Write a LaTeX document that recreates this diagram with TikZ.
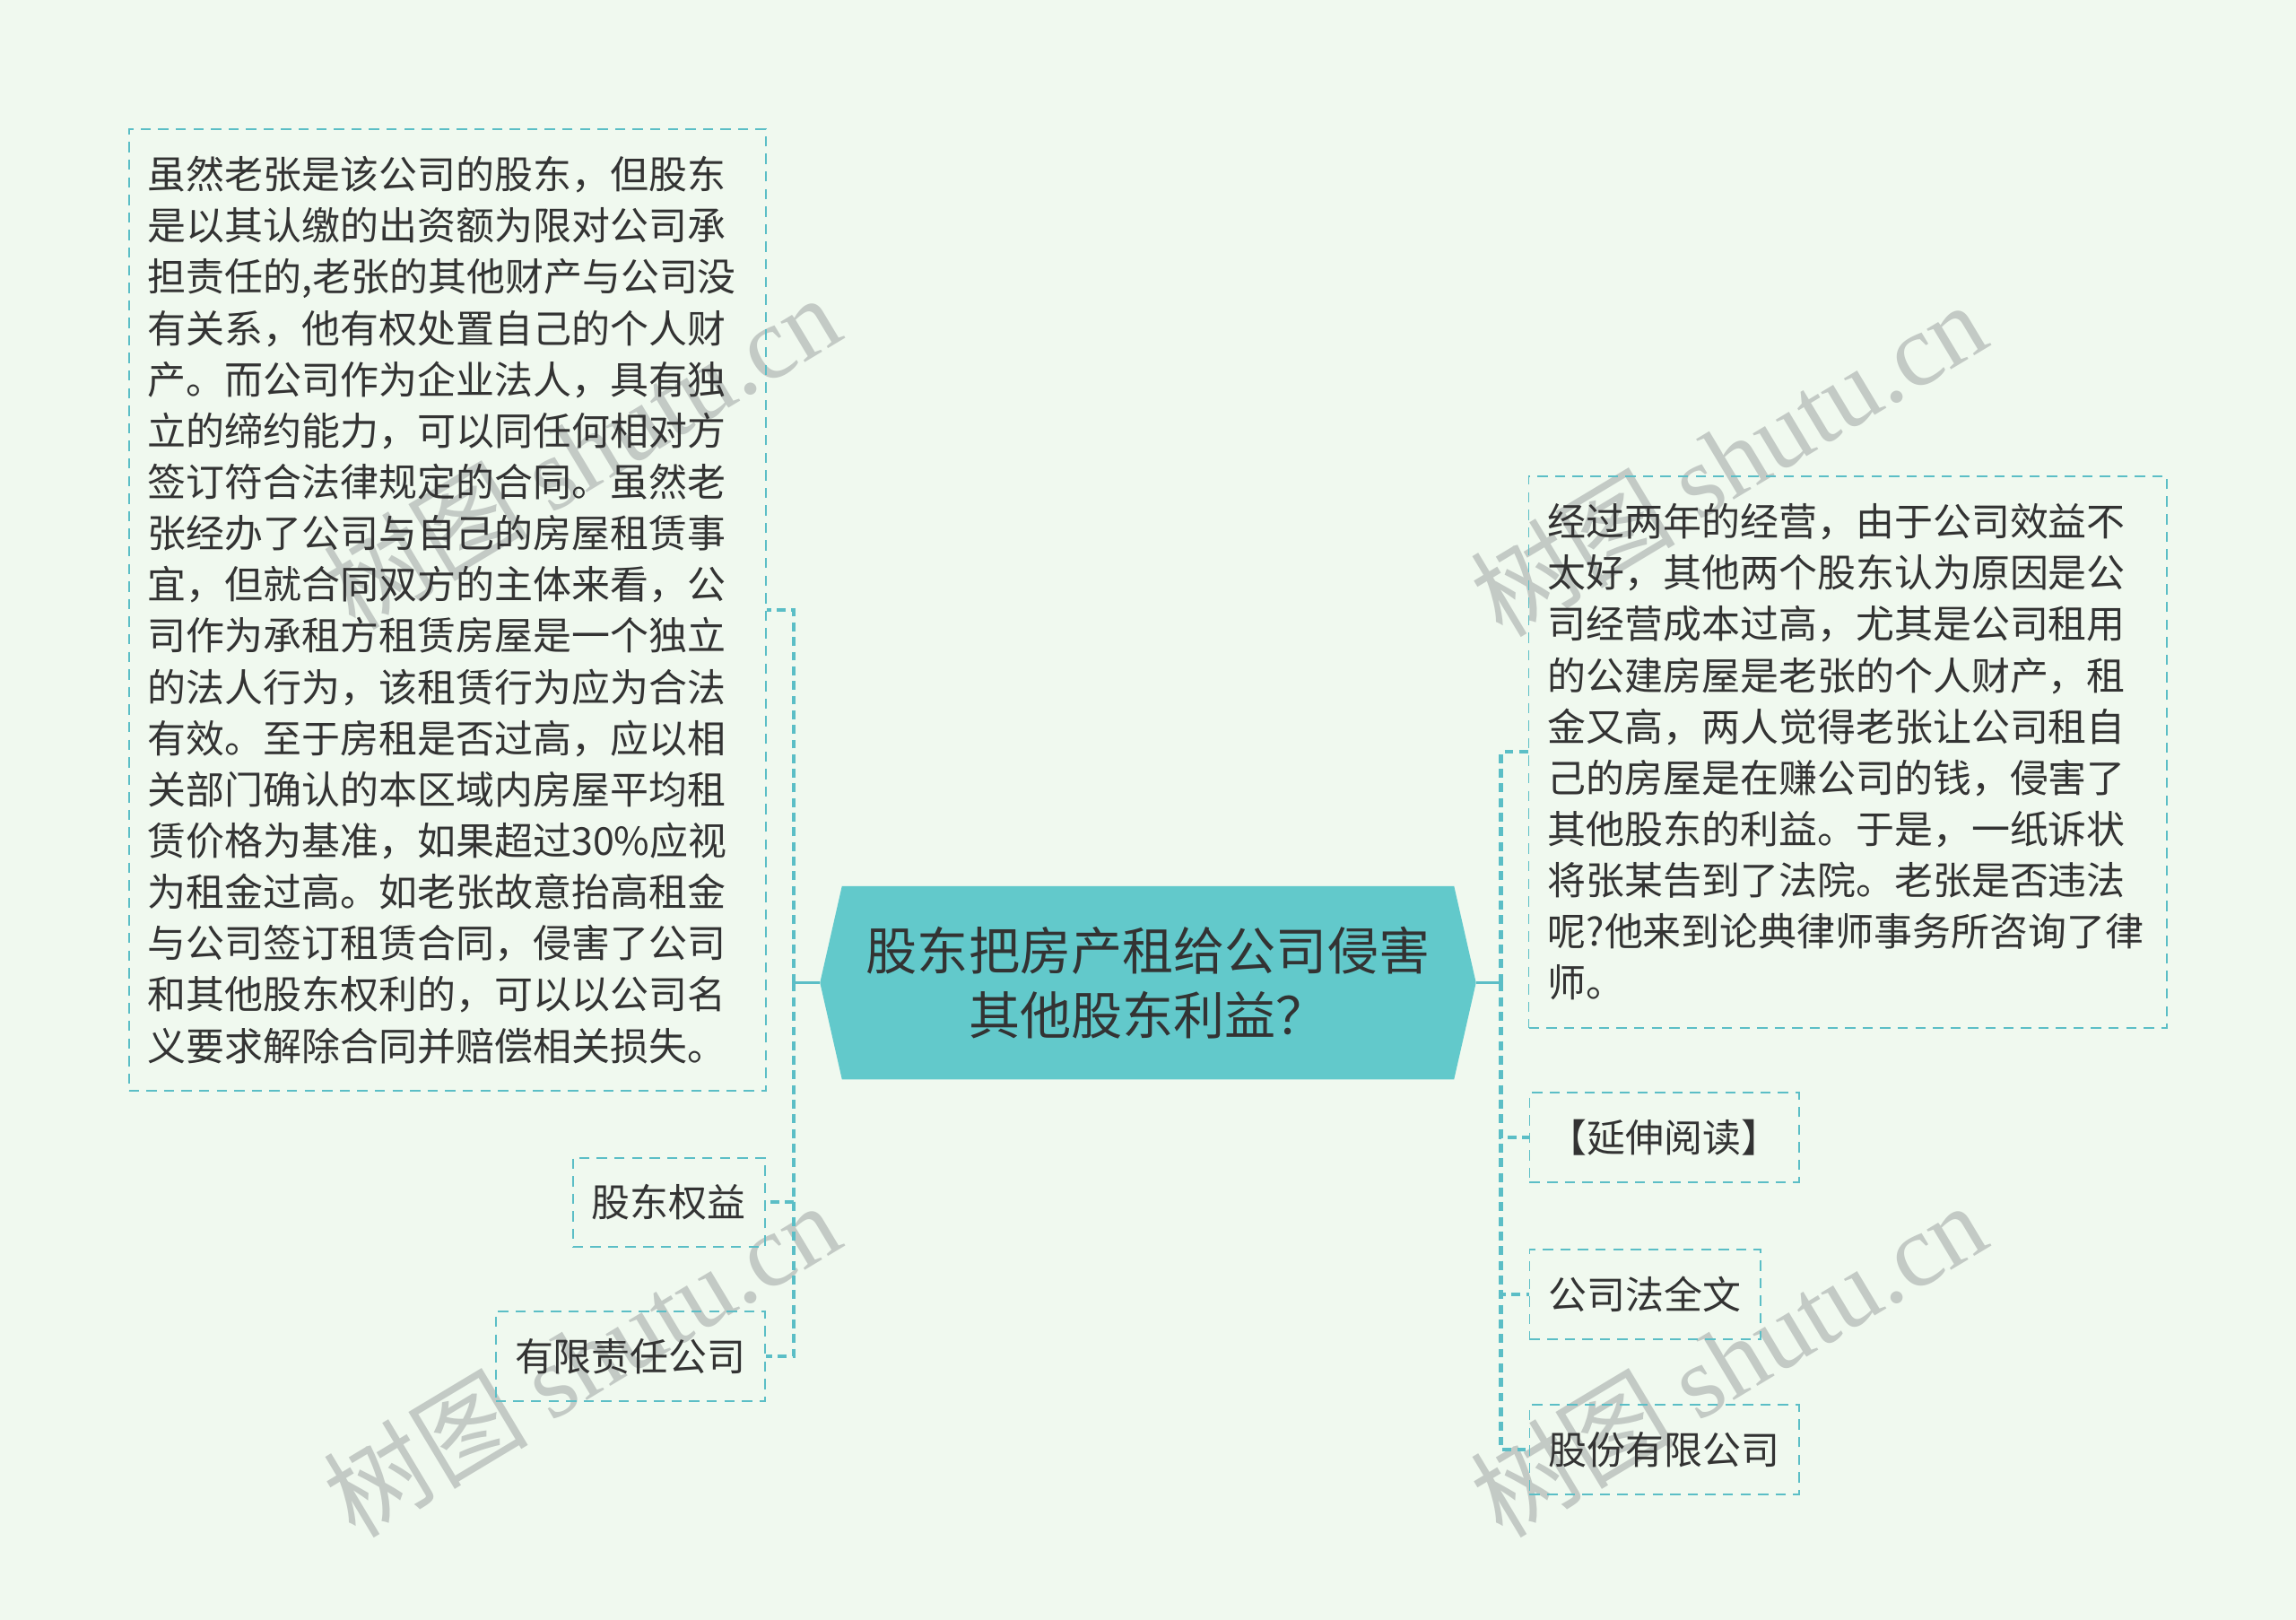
\documentclass[tikz,border=0pt]{standalone}
\usepackage{fontspec}
\setmainfont{Noto Sans CJK SC}
\newfontfamily\wmfont{Liberation Serif}
\usepackage{tikz}
\usetikzlibrary{positioning}
\definecolor{pagebg}{HTML}{F0F9EF}
\definecolor{hexfill}{HTML}{62C9CB}
\definecolor{linkcol}{HTML}{5BBEC6}
\definecolor{inkcol}{HTML}{333333}
\definecolor{markcol}{HTML}{C3CAC5}

\begin{document}
\begin{tikzpicture}
          [x=1pt, y=-1pt,
           every node/.style={text=inkcol, font=\fontsize{26.3}{35}\selectfont},
           leaf/.style={draw=linkcol, line width=1.2pt, dash pattern=on 7pt off 5pt,
                        inner xsep=13pt, inner ysep=0pt, minimum height=61pt},
           note/.style={leaf, align=left, text width=409pt},
           trunk/.style={draw=linkcol, line width=2pt},
           branch/.style={draw=linkcol, line width=2.5pt, dash pattern=on 6pt off 4pt},
           wmark/.style={text=markcol, rotate=31, font=\fontsize{70}{70}\selectfont}]
          \useasboundingbox (0,0) rectangle (1568,1106);
          \fill[pagebg] (0,0) rectangle (1568,1106);

          % watermarks
          \node (wm1) at (397,308) [wmark] {树图 {\wmfont shutu.cn}};
          \node (wm2) at (397,928) [wmark] {树图 {\wmfont shutu.cn}};
          \node (wm3) at (1180,313) [wmark] {树图 {\wmfont shutu.cn}};
          \node (wm4) at (1180,928) [wmark] {树图 {\wmfont shutu.cn}};

          % central topic
          \fill[hexfill] (560,671) -- (575,605) -- (993,605) -- (1008,671)
                -- (993,737) -- (575,737) -- cycle;
          \node (root) at (784,671) [minimum width=448pt, minimum height=132pt, inner sep=0pt,
                align=center, font=\fontsize{35}{44}\selectfont]
                {股东把房产租给公司侵害\\其他股东利益？};

          % left side
          \node (advice) at (305.5,416.5) [note, minimum height=657pt] {%
            虽然老张是该公司的股东，但股东\\
            是以其认缴的出资额为限对公司承\\
            担责任的,老张的其他财产与公司没\\
            有关系，他有权处置自己的个人财\\
            产。而公司作为企业法人，具有独\\
            立的缔约能力，可以同任何相对方\\
            签订符合法律规定的合同。虽然老\\
            张经办了公司与自己的房屋租赁事\\
            宜，但就合同双方的主体来看，公\\
            司作为承租方租赁房屋是一个独立\\
            的法人行为，该租赁行为应为合法\\
            有效。至于房租是否过高，应以相\\
            关部门确认的本区域内房屋平均租\\
            赁价格为基准，如果超过30\%应视\\
            为租金过高。如老张故意抬高租金\\
            与公司签订租赁合同，侵害了公司\\
            和其他股东权利的，可以以公司名\\
            义要求解除合同并赔偿相关损失。};
          \node (equity) at (523,821) [leaf, anchor=east] {股东权益};
          \node (llc) [leaf, below=43pt of equity.south east, anchor=north east] {有限责任公司};

          % right side
          \node (story) at (1262,513.5) [note, text width=410pt, minimum height=377pt] {%
            经过两年的经营，由于公司效益不\\
            太好，其他两个股东认为原因是公\\
            司经营成本过高，尤其是公司租用\\
            的公建房屋是老张的个人财产，租\\
            金又高，两人觉得老张让公司租自\\
            己的房屋是在赚公司的钱，侵害了\\
            其他股东的利益。于是，一纸诉状\\
            将张某告到了法院。老张是否违法\\
            呢?他来到论典律师事务所咨询了律\\
            师。};
          \node (ext) at (1044,776.5) [leaf, anchor=west] {【延伸阅读】};
          \node (law) [leaf, below=45pt of ext.south west, anchor=north west] {公司法全文};
          \node (share) [leaf, below=44pt of law.south west, anchor=north west] {股份有限公司};

          % connectors
          \coordinate (lj) at (542,671);
          \coordinate (rj) at (1025,671);
          \draw[trunk] (root.west) -- (lj);
          \draw[trunk] (root.east) -- (rj);
          \foreach \n in {advice, equity, llc}
            \draw[branch] (lj) |- (\n.east);
          \foreach \n in {story, ext, law, share}
            \draw[branch] (rj) |- (\n.west);
        \end{tikzpicture}
\end{document}
